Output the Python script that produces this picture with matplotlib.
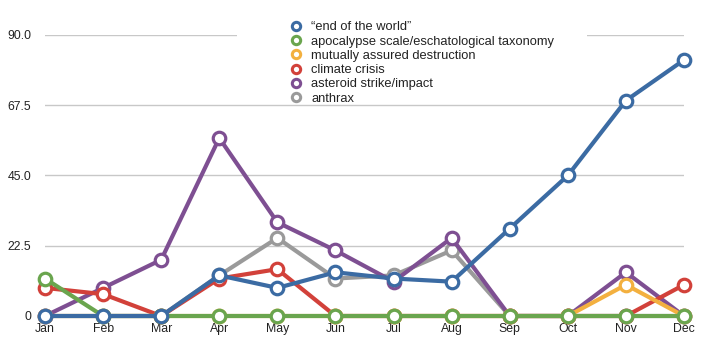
import matplotlib
matplotlib.use("Agg")
import matplotlib.pyplot as plt
from matplotlib.lines import Line2D
from matplotlib.patches import Rectangle

plt.rcParams['font.family'] = ['Liberation Sans', 'DejaVu Sans']

months = ["Jan", "Feb", "Mar", "Apr", "May", "Jun", "Jul", "Aug", "Sep", "Oct", "Nov", "Dec"]
names = ["\u201cend of the world\u201d", "apocalypse scale/eschatological taxonomy",
         "mutually assured destruction", "climate crisis", "asteroid strike/impact", "anthrax"]
end_of_world = [0, 0, 0, 13, 9, 14, 12, 11, 28, 45, 69, 82]
apocalypse = [12, 0, 0, 0, 0, 0, 0, 0, 0, 0, 0, 0]
mad = [0, 0, 0, 0, 0, 0, 0, 0, 0, 0, 10, 0]
climate = [9, 7, 0, 12, 15, 0, 0, 0, 0, 0, 0, 10]
asteroid = [0, 9, 18, 57, 30, 21, 11, 25, 0, 0, 14, 0]
anthrax = [0, 0, 0, 13, 25, 12, 13, 21, 0, 0, 0, 0]
series = [end_of_world, apocalypse, mad, climate, asteroid, anthrax]
colors = ["#3b6ba3", "#6aa54e", "#f3b03f", "#d2413a", "#7e4f92", "#9a9a9a"]
yticks = [0, 22.5, 45.0, 67.5, 90.0]
ytick_labels = ["0", "22.5", "45.0", "67.5", "90.0"]

fig = plt.figure(figsize=(7.11, 3.41), dpi=100)
ax = fig.add_axes([45/711, 25/341, (684-45)/711, (316-35)/341])
x = list(range(len(months)))
n = len(series)
for i, (vals, c) in enumerate(zip(series, colors)):
    ax.plot(x, vals, color=c, lw=3.0, marker='o', ms=9, mfc='white', mec=c, mew=2.3,
            zorder=10 + (n - i), clip_on=False, solid_joinstyle='round')

ax.set_xlim(0, 11)
ax.set_ylim(0, 90)
ax.set_yticks(yticks)
ax.set_yticklabels(ytick_labels)
ax.set_xticks(x)
ax.set_xticklabels(months)
ax.tick_params(axis='both', length=0, labelsize=8.8, colors='#222222')
ax.tick_params(axis='y', pad=10)
ax.tick_params(axis='x', pad=5)
for s in ax.spines.values():
    s.set_visible(False)
ax.set_axisbelow(True)
ax.yaxis.grid(True, color='#c8c8c8', lw=1)
ax.xaxis.grid(False)

# white legend background
ax.add_patch(Rectangle(((237-45)/639, (316-103)/281), 350/639, 100/281,
                       transform=ax.transAxes, facecolor='white', edgecolor='none', zorder=2))

handles = [Line2D([], [], ls='none', marker='o', ms=6, mfc='white', mec=c, mew=2.2) for c in colors]
leg = fig.legend(handles, names, loc='upper left', bbox_to_anchor=(282/711, 1 - 15/341),
                 frameon=False, fontsize=9.3, handletextpad=0.55, labelspacing=0.17,
                 borderpad=0, handlelength=1.2)
for t in leg.get_texts():
    t.set_color('#222222')

fig.savefig("out.png", dpi=100)
